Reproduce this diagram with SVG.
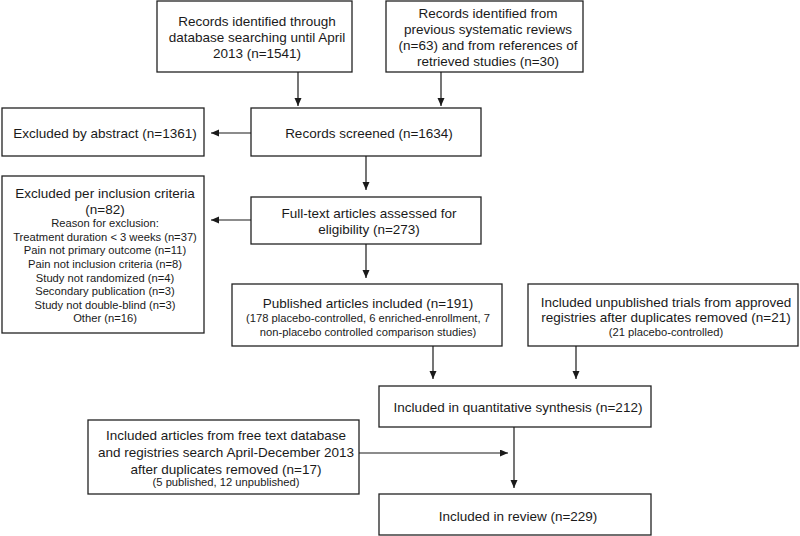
<svg xmlns="http://www.w3.org/2000/svg" width="800" height="536" viewBox="0 0 800 536">
<defs>
<marker id="arr" markerUnits="userSpaceOnUse" markerWidth="9" markerHeight="8" refX="8" refY="3.5" orient="auto">
<path d="M0,0 L8,3.5 L0,7 z" fill="#1a1a1a"/>
</marker>
<style>
rect{fill:#fff;stroke:#222;stroke-width:1.3}
text{font-family:"Liberation Sans",Arial,sans-serif;fill:#1a1a1a;text-anchor:middle}
.m{font-size:13.5px}
.s{font-size:11.2px}
.c line{stroke:#1a1a1a;stroke-width:1.2;fill:none}
</style>
</defs>
<rect x="0" y="0" width="800" height="536" style="fill:#fff;stroke:none"/>
<g id="n_db">
<rect x="157" y="1" width="195" height="71"/>
<text class="m" x="257" y="25.5">Records identified through</text>
<text class="m" x="257" y="41.5">database searching until April</text>
<text class="m" x="257" y="58">2013 (n=1541)</text>
</g>
<g id="n_prev">
<rect x="386" y="1" width="197" height="71"/>
<text class="m" x="488" y="18">Records identified from</text>
<text class="m" x="488" y="34">previous systematic reviews</text>
<text class="m" x="488" y="50">(n=63) and from references of</text>
<text class="m" x="488" y="66">retrieved studies (n=30)</text>
</g>
<g id="n_abstract">
<rect x="2" y="108" width="202" height="48"/>
<text class="m" x="105" y="138">Excluded by abstract (n=1361)</text>
</g>
<g id="n_screened">
<rect x="251" y="108" width="230" height="48"/>
<text class="m" x="369" y="138">Records screened (n=1634)</text>
</g>
<g id="n_inclusion">
<rect x="2" y="176" width="202" height="157"/>
<text class="m" x="105" y="198">Excluded per inclusion criteria</text>
<text class="m" x="105" y="214">(n=82)</text>
<text class="s" x="105" y="227">Reason for exclusion:</text>
<text class="s" x="105" y="240.5">Treatment duration &lt; 3 weeks (n=37)</text>
<text class="s" x="105" y="254">Pain not primary outcome (n=11)</text>
<text class="s" x="105" y="268">Pain not inclusion criteria (n=8)</text>
<text class="s" x="105" y="281.5">Study not randomized (n=4)</text>
<text class="s" x="105" y="295">Secondary publication (n=3)</text>
<text class="s" x="105" y="308.5">Study not double-blind (n=3)</text>
<text class="s" x="105" y="322">Other (n=16)</text>
</g>
<g id="n_fulltext">
<rect x="251" y="197" width="230" height="47"/>
<text class="m" x="369" y="218">Full-text articles assessed for</text>
<text class="m" x="369" y="234">eligibility (n=273)</text>
</g>
<g id="n_published">
<rect x="232" y="284" width="270" height="62"/>
<text class="m" x="368" y="308">Published articles included (n=191)</text>
<text class="s" x="368" y="322">(178 placebo-controlled, 6 enriched-enrollment, 7</text>
<text class="s" x="368" y="336">non-placebo controlled comparison studies)</text>
</g>
<g id="n_unpublished">
<rect x="528" y="284" width="270" height="62"/>
<text class="m" x="666" y="307">Included unpublished trials from approved</text>
<text class="m" x="666" y="322">registries after duplicates removed (n=21)</text>
<text class="s" x="666" y="336">(21 placebo-controlled)</text>
</g>
<g id="n_quant">
<rect x="379" y="386" width="272" height="41"/>
<text class="m" x="518" y="412">Included in quantitative synthesis (n=212)</text>
</g>
<g id="n_freetext">
<rect x="88" y="420" width="271" height="74"/>
<text class="m" x="226" y="440">Included articles from free text database</text>
<text class="m" x="226" y="457">and registries search April-December 2013</text>
<text class="m" x="226" y="474">after duplicates removed (n=17)</text>
<text class="s" x="226" y="486">(5 published, 12 unpublished)</text>
</g>
<g id="n_review">
<rect x="379" y="494" width="272" height="41"/>
<text class="m" x="518" y="521">Included in review (n=229)</text>
</g>
<g id="connectors" class="c">
<line x1="298" y1="72" x2="298" y2="106" marker-end="url(#arr)"/>
<line x1="441" y1="72" x2="441" y2="106" marker-end="url(#arr)"/>
<line x1="251" y1="133" x2="211" y2="133" marker-end="url(#arr)"/>
<line x1="366" y1="156" x2="366" y2="190" marker-end="url(#arr)"/>
<line x1="251" y1="220" x2="211" y2="220" marker-end="url(#arr)"/>
<line x1="366" y1="244" x2="366" y2="278" marker-end="url(#arr)"/>
<line x1="433" y1="346" x2="433" y2="379" marker-end="url(#arr)"/>
<line x1="576" y1="346" x2="576" y2="379" marker-end="url(#arr)"/>
<line x1="514" y1="427" x2="514" y2="488" marker-end="url(#arr)"/>
<line x1="359" y1="453" x2="508" y2="453" marker-end="url(#arr)"/>
</g>
</svg>
